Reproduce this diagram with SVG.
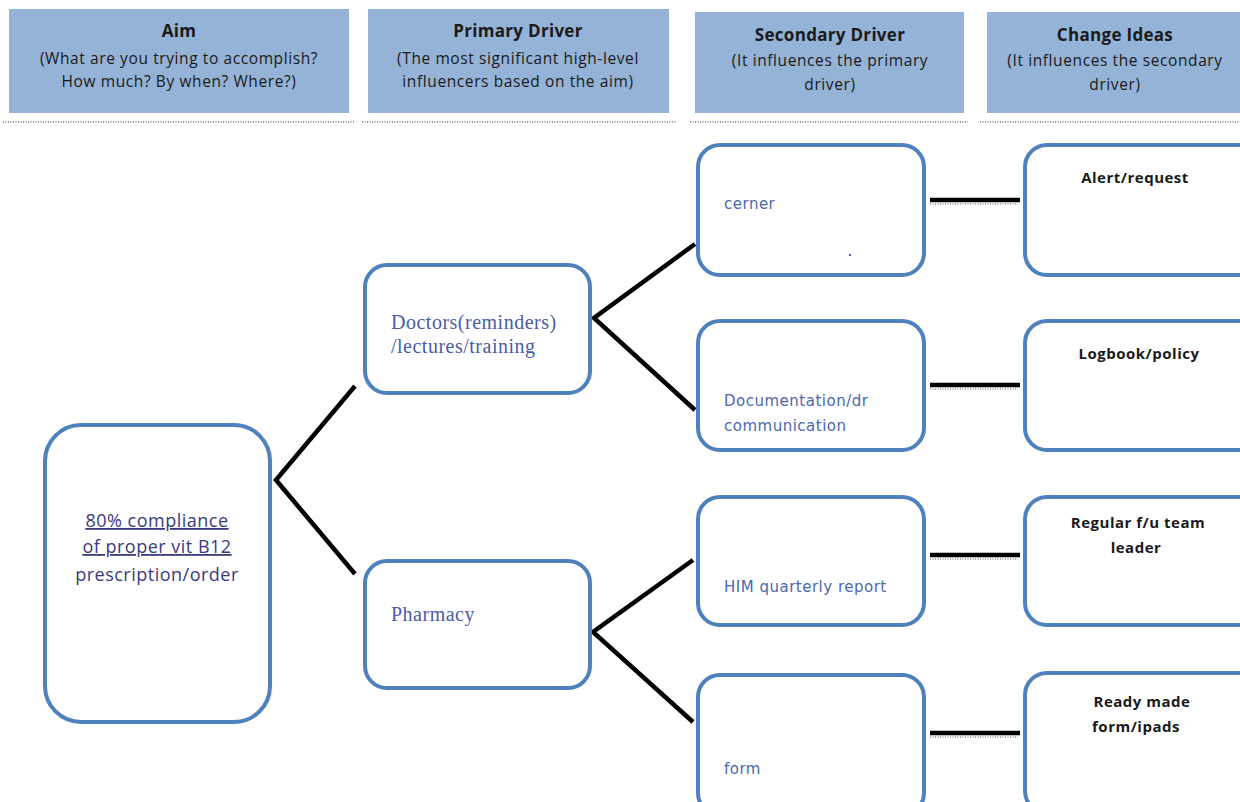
<svg xmlns="http://www.w3.org/2000/svg" width="1240" height="802" viewBox="0 0 1240 802">
<style>
.hdr{fill:#95b3d7}
.ht{font-family:"Open Sans","Liberation Sans",sans-serif;font-weight:bold;font-size:17px;letter-spacing:0.3px;fill:#1a1a1a;text-anchor:middle}
.hs{font-family:"Open Sans","Liberation Sans",sans-serif;font-size:15.5px;letter-spacing:0.6px;fill:#1a1a1a;text-anchor:middle}
.dots{stroke:#777;stroke-width:1.5;stroke-dasharray:1 1.5;fill:none}
.node{fill:#fff;stroke:#4f81bd;stroke-width:4}
.serif{font-family:"Liberation Serif",serif;font-size:20px;letter-spacing:0.5px;fill:#4a5ca8}
.sans{font-family:"DejaVu Sans",Verdana,sans-serif;font-size:15px;letter-spacing:0.5px;fill:#4a68b0}
.aim{font-family:"Open Sans","Liberation Sans",sans-serif;font-size:18px;letter-spacing:0.5px;fill:#3a3a80;text-anchor:middle}
.idea{font-family:"Open Sans","Liberation Sans",sans-serif;font-weight:bold;font-size:15px;letter-spacing:0.5px;fill:#1a1a1a;text-anchor:middle}
.conn{stroke:#000;stroke-width:4.5;fill:none;stroke-linejoin:miter}
.connd{stroke:#555;stroke-width:1.2;stroke-dasharray:1 1.5;fill:none}
</style>
<rect width="1240" height="802" fill="#fff"/>
<g id="header-aim">
<rect class="hdr" x="9" y="9" width="340" height="104"/>
<text class="ht" x="179" y="37">Aim</text>
<text class="hs" x="179" y="64">(What are you trying to accomplish?</text>
<text class="hs" x="179" y="87">How much? By when? Where?)</text>
<line class="dots" x1="3" y1="122" x2="355" y2="122"/>
</g>
<g id="header-primary">
<rect class="hdr" x="368" y="9" width="301" height="104"/>
<text class="ht" x="518" y="37">Primary Driver</text>
<text class="hs" x="518" y="64">(The most significant high-level</text>
<text class="hs" x="518" y="87">influencers based on the aim)</text>
<line class="dots" x1="362" y1="122" x2="677" y2="122"/>
</g>
<g id="header-secondary">
<rect class="hdr" x="695" y="12" width="269" height="101"/>
<text class="ht" x="830" y="41">Secondary Driver</text>
<text class="hs" x="830" y="66">(It influences the primary</text>
<text class="hs" x="830" y="90">driver)</text>
<line class="dots" x1="690" y1="122" x2="968" y2="122"/>
</g>
<g id="header-change">
<rect class="hdr" x="987" y="12" width="260" height="101"/>
<text class="ht" x="1115" y="41">Change Ideas</text>
<text class="hs" x="1115" y="66">(It influences the secondary</text>
<text class="hs" x="1115" y="90">driver)</text>
<line class="dots" x1="980" y1="122" x2="1240" y2="122"/>
</g>
<g id="connectors">
<polyline class="conn" points="355,386 276,480 355,574"/>
<polyline class="conn" points="695,244 594,318 695,410"/>
<polyline class="conn" points="693,560 593,632 693,722"/>
<line class="conn" x1="930" y1="200" x2="1020" y2="200"/>
<line class="connd" x1="930" y1="204" x2="1018" y2="204"/>
<line class="conn" x1="930" y1="385" x2="1020" y2="385"/>
<line class="connd" x1="930" y1="389" x2="1018" y2="389"/>
<line class="conn" x1="930" y1="555" x2="1020" y2="555"/>
<line class="connd" x1="930" y1="559" x2="1018" y2="559"/>
<line class="conn" x1="930" y1="733" x2="1020" y2="733"/>
<line class="connd" x1="930" y1="737" x2="1018" y2="737"/>
</g>
<g id="aim">
<rect class="node" x="45" y="425" width="225" height="297" rx="36"/>
<text class="aim" x="157" y="527" text-decoration="underline">80% compliance</text>
<text class="aim" x="157" y="553" text-decoration="underline">of proper vit B12</text>
<text class="aim" x="157" y="581">prescription/order</text>
</g>
<g id="primary-doctors">
<rect class="node" x="365" y="265" width="225" height="128" rx="22"/>
<text class="serif" x="391" y="329">Doctors(reminders)</text>
<text class="serif" x="391" y="353">/lectures/training</text>
</g>
<g id="primary-pharmacy">
<rect class="node" x="365" y="561" width="225" height="127" rx="22"/>
<text class="serif" x="391" y="621">Pharmacy</text>
</g>
<g id="secondary-cerner">
<rect class="node" x="698" y="145" width="226" height="130" rx="22"/>
<text class="sans" x="724" y="209">cerner</text>
<circle cx="850" cy="255" r="1.2" fill="#4a68b0"/>
</g>
<g id="secondary-documentation">
<rect class="node" x="698" y="321" width="226" height="129" rx="22"/>
<text class="sans" x="724" y="406">Documentation/dr</text>
<text class="sans" x="724" y="431">communication</text>
</g>
<g id="secondary-him">
<rect class="node" x="698" y="497" width="226" height="128" rx="22"/>
<text class="sans" x="724" y="592">HIM quarterly report</text>
</g>
<g id="secondary-form">
<rect class="node" x="698" y="675" width="226" height="140" rx="22"/>
<text class="sans" x="724" y="774">form</text>
</g>
<g id="idea-alert">
<rect class="node" x="1025" y="145" width="240" height="130" rx="22"/>
<text class="idea" x="1135" y="183">Alert/request</text>
</g>
<g id="idea-logbook">
<rect class="node" x="1025" y="321" width="240" height="129" rx="22"/>
<text class="idea" x="1139" y="359">Logbook/policy</text>
</g>
<g id="idea-regular">
<rect class="node" x="1025" y="497" width="240" height="128" rx="22"/>
<text class="idea" x="1138" y="528">Regular f/u team</text>
<text class="idea" x="1136" y="553">leader</text>
</g>
<g id="idea-ready">
<rect class="node" x="1025" y="673" width="240" height="140" rx="22"/>
<text class="idea" x="1142" y="707">Ready made</text>
<text class="idea" x="1136" y="732">form/ipads</text>
</g>
</svg>
